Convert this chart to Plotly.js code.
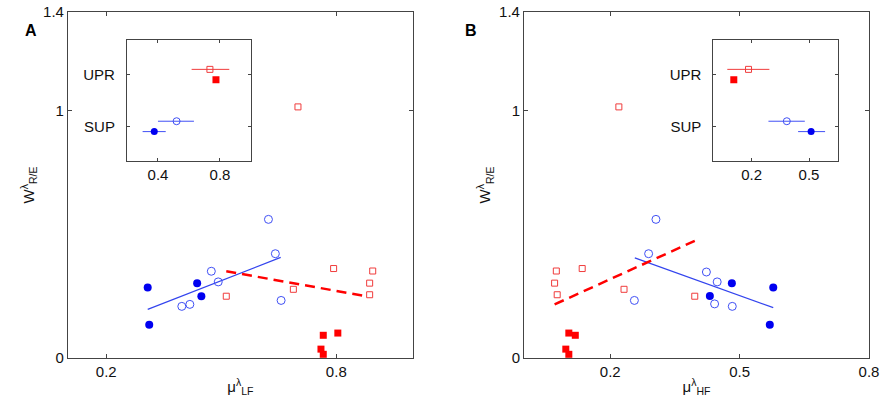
<!DOCTYPE html>
<html>
<head>
<meta charset="utf-8">
<script src="https://cdn.plot.ly/plotly-3.0.1.min.js"></script>
<style>
  html, body { margin: 0; padding: 0; background: #fff; }
  #chart { width: 886px; height: 408px; }
</style>
</head>
<body>
<div id="chart"></div>
<script>
// Panel A (LF)
var aSupFilledX = [0.308, 0.312, 0.437, 0.448];
var aSupFilledY = [0.285, 0.135, 0.303, 0.250];
var aSupOpenX = [0.623, 0.641, 0.474, 0.492, 0.397, 0.418, 0.656];
var aSupOpenY = [0.561, 0.422, 0.351, 0.308, 0.209, 0.217, 0.233];
var aSupFitX = [0.308, 0.655];
var aSupFitY = [0.197, 0.407];
var aUprOpenX = [0.700, 0.793, 0.895, 0.887, 0.887, 0.688, 0.513];
var aUprOpenY = [1.016, 0.362, 0.352, 0.303, 0.256, 0.278, 0.250];
var aUprFilledX = [0.766, 0.804, 0.760, 0.766];
var aUprFilledY = [0.092, 0.101, 0.036, 0.015];
var aUprFitX = [0.513, 0.878];
var aUprFitY = [0.351, 0.250];

// Panel B (HF)
var bUprOpenX = [0.075, 0.071, 0.077, 0.135, 0.220, 0.232, 0.396];
var bUprOpenY = [0.352, 0.303, 0.256, 0.362, 1.016, 0.278, 0.250];
var bUprFilledX = [0.104, 0.119, 0.097, 0.104];
var bUprFilledY = [0.101, 0.092, 0.036, 0.015];
var bUprFitX = [0.071, 0.396];
var bUprFitY = [0.217, 0.474];
var bSupOpenX = [0.306, 0.289, 0.256, 0.423, 0.448, 0.442, 0.483];
var bSupOpenY = [0.561, 0.422, 0.233, 0.348, 0.308, 0.219, 0.209];
var bSupFilledX = [0.482, 0.431, 0.578, 0.570];
var bSupFilledY = [0.303, 0.251, 0.285, 0.135];
var bSupFitX = [0.257, 0.578];
var bSupFitY = [0.405, 0.204];

// insets: group rows and means with spread
var insetRows = ['SUP', 'UPR'];
var insetRowPos = [2, 5];
var insetOffset = 0.3;
var aInsetMean = {upOpen: 0.735, upFill: 0.774, supOpen: 0.52, supFill: 0.376};
var aInsetLo = {upOpen: 0.617, upFill: 0.774, supOpen: 0.40, supFill: 0.301};
var aInsetHi = {upOpen: 0.860, upFill: 0.774, supOpen: 0.632, supFill: 0.45};
var bInsetMean = {upOpen: 0.184, upFill: 0.107, supOpen: 0.384, supFill: 0.511};
var bInsetLo = {upOpen: 0.073, upFill: 0.107, supOpen: 0.288, supFill: 0.443};
var bInsetHi = {upOpen: 0.293, upFill: 0.107, supOpen: 0.478, supFill: 0.584};

var BLUE = '#0000f0', BLUE_O = '#4050f5', RED = '#ff0000', RED_O = '#f03c3c';

function pts(x, y, xa, ya, sym, col, size) {
  var open = sym.indexOf('open') >= 0;
  return {
    x: x, y: y, xaxis: xa, yaxis: ya, type: 'scatter', mode: 'markers',
    marker: {symbol: sym, size: size, color: col, line: {color: col, width: open ? 1 : 0}},
    hoverinfo: 'skip'
  };
}
function fit(x, y, xa, ya, col, w, dash) {
  return {
    x: x, y: y, xaxis: xa, yaxis: ya, type: 'scatter', mode: 'lines',
    line: {color: col, width: w, dash: dash}, hoverinfo: 'skip'
  };
}
function inset(m, lo, hi, xa, ya) {
  var out = [];
  var keys = [['upOpen', insetRowPos[1] + insetOffset, 'square-open', RED_O, 6],
              ['upFill', insetRowPos[1] - insetOffset, 'square', RED, 7],
              ['supOpen', insetRowPos[0] + insetOffset, 'circle-open', BLUE_O, 7],
              ['supFill', insetRowPos[0] - insetOffset, 'circle', BLUE, 7]];
  keys.forEach(function (k) {
    var t = pts([m[k[0]]], [k[1]], xa, ya, k[2], k[3], k[4]);
    t.error_x = {type: 'data', symmetric: false,
      array: [hi[k[0]] - m[k[0]]], arrayminus: [m[k[0]] - lo[k[0]]],
      color: k[3] === BLUE ? BLUE_O : k[3], thickness: 1, width: 0};
    out.push(t);
  });
  return out;
}

var data = [
  fit(aSupFitX, aSupFitY, 'x', 'y', '#3344ee', 1.2, 'solid'),
  fit(aUprFitX, aUprFitY, 'x', 'y', RED, 2.5, '10px,6px'),
  pts(aSupFilledX, aSupFilledY, 'x', 'y', 'circle', BLUE, 8),
  pts(aSupOpenX, aSupOpenY, 'x', 'y', 'circle-open', BLUE_O, 8),
  pts(aUprOpenX, aUprOpenY, 'x', 'y', 'square-open', RED_O, 6),
  pts(aUprFilledX, aUprFilledY, 'x', 'y', 'square', RED, 7),
  fit(bSupFitX, bSupFitY, 'x3', 'y3', '#3344ee', 1.2, 'solid'),
  fit(bUprFitX, bUprFitY, 'x3', 'y3', RED, 2.5, '10px,6px'),
  pts(bSupFilledX, bSupFilledY, 'x3', 'y3', 'circle', BLUE, 8),
  pts(bSupOpenX, bSupOpenY, 'x3', 'y3', 'circle-open', BLUE_O, 8),
  pts(bUprOpenX, bUprOpenY, 'x3', 'y3', 'square-open', RED_O, 6),
  pts(bUprFilledX, bUprFilledY, 'x3', 'y3', 'square', RED, 7)
].concat(inset(aInsetMean, aInsetLo, aInsetHi, 'x2', 'y2'))
 .concat(inset(bInsetMean, bInsetLo, bInsetHi, 'x4', 'y4'));

var FONT = {family: 'Liberation Sans, Arial, sans-serif', size: 15, color: '#111'};
function ax(extra) {
  var base = {
    showline: true, linecolor: '#444', linewidth: 1, mirror: 'ticks',
    ticks: 'inside', ticklen: 4, tickcolor: '#444', showgrid: false,
    zeroline: false, automargin: false, fixedrange: true, tickfont: FONT
  };
  for (var k in extra) base[k] = extra[k];
  return base;
}
var yTitle = {text: 'W<sup>λ</sup><sub>R/E</sub>', font: FONT, standoff: 4};

var layout = {
  width: 886, height: 408,
  margin: {l: 0, r: 0, t: 0, b: 0},
  paper_bgcolor: '#fff', plot_bgcolor: '#fff',
  showlegend: false, font: FONT,
  xaxis: ax({domain: [0.0767, 0.4661], range: [0.1, 1.0], tickvals: [0.2, 0.8],
    anchor: 'y', title: {text: 'μ<sup>λ</sup><sub>LF</sub>', font: FONT, standoff: 2}}),
  yaxis: ax({domain: [0.1225, 0.9706], range: [0, 1.4], tickvals: [0, 1, 1.4],
    anchor: 'x', title: yTitle}),
  xaxis2: ax({domain: [0.1433, 0.2833], range: [0.2, 1.0], tickvals: [0.4, 0.8],
    anchor: 'y2', ticklen: 3}),
  yaxis2: ax({domain: [0.6054, 0.902], range: [0, 7], tickvals: insetRowPos,
    ticktext: insetRows, anchor: 'x2', ticklen: 3, ticklabelstandoff: 8}),
  xaxis3: ax({domain: [0.5914, 0.9808], range: [0, 0.8], tickvals: [0.2, 0.5, 0.8],
    anchor: 'y3', title: {text: 'μ<sup>λ</sup><sub>HF</sub>', font: FONT, standoff: 2}}),
  yaxis3: ax({domain: [0.1225, 0.9706], range: [0, 1.4], tickvals: [0, 1, 1.4],
    anchor: 'x3', title: yTitle}),
  xaxis4: ax({domain: [0.8051, 0.9455], range: [0, 0.65], tickvals: [0.2, 0.5],
    anchor: 'y4', ticklen: 3}),
  yaxis4: ax({domain: [0.6054, 0.902], range: [0, 7], tickvals: insetRowPos,
    ticktext: insetRows, anchor: 'x4', ticklen: 3, ticklabelstandoff: 8}),
  annotations: [
    {text: '<b>A</b>', x: 23, y: 20, xref: 'paper', yref: 'paper', showarrow: false,
     font: {family: 'Liberation Sans, Arial, sans-serif', size: 16, color: '#000'}},
    {text: '<b>B</b>', x: 471, y: 20, xref: 'paper', yref: 'paper', showarrow: false,
     font: {family: 'Liberation Sans, Arial, sans-serif', size: 16, color: '#000'}}
  ]
};
// annotation positions given in pixels -> paper fractions
layout.annotations.forEach(function (a) { a.x = a.x / 886; a.y = 1 - a.y / 408; });

Plotly.newPlot('chart', data, layout, {displayModeBar: false, staticPlot: true});
</script>
</body>
</html>
